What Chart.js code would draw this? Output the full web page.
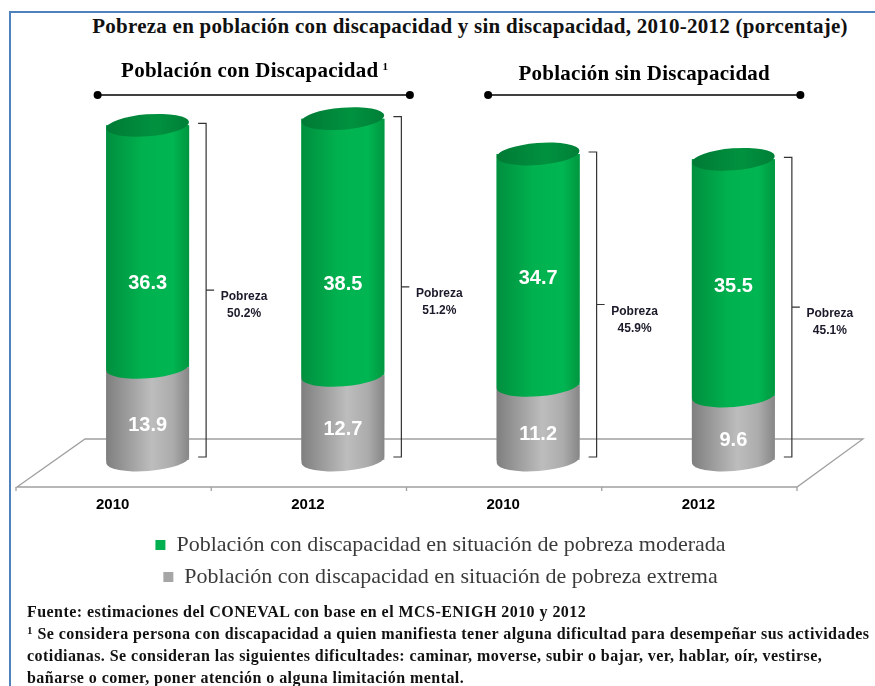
<!DOCTYPE html>
<html lang="es">
<head>
<meta charset="utf-8">
<script src="https://cdn.jsdelivr.net/npm/chart.js@4"></script>
<style>
  html, body { margin: 0; padding: 0; background: #fff; }
  #wrap { position: relative; width: 875px; height: 686px; overflow: hidden; }
  #frame { position: absolute; left: 9px; top: 11px; width: 900px; height: 700px;
    border-left: 2px solid #4f81bd; border-top: 2px solid #4f81bd; }
  #title { position: absolute; left: 0; top: 14px; width: 940px; text-align: center;
    font: bold 21px "Liberation Serif", serif; letter-spacing: 0.25px; color: #111; white-space: nowrap; }
  #notes { position: absolute; left: 27px; top: 601px; font: bold 16px "Liberation Serif", serif;
    letter-spacing: 0.45px; color: #111; line-height: 22px; white-space: nowrap; }
  #notes sup { font-size: 11px; vertical-align: 5px; line-height: 0; }
  canvas { position: absolute; left: 0; top: 0; }
</style>
</head>
<body>
<div id="wrap">
  <div id="frame"></div>
  <div id="title">Pobreza en población con discapacidad y sin discapacidad, 2010-2012 (porcentaje)</div>
  <canvas id="chart" width="875" height="610"></canvas>
  <div id="notes">
    Fuente: estimaciones del CONEVAL con base en el MCS-ENIGH 2010 y 2012<br>
    <sup>1</sup> Se considera persona con discapacidad a quien manifiesta tener alguna dificultad para desempeñar sus actividades<br>
    cotidianas. Se consideran las siguientes dificultades: caminar, moverse, subir o bajar, ver, hablar, oír, vestirse,<br>
    bañarse o comer, poner atención o alguna limitación mental.
  </div>
</div>
<script>
const $ = id => document.getElementById(id);

// Data
const years = ["2010", "2012", "2010", "2012"];
const extrema = [13.9, 12.7, 11.2, 9.6];
const moderada = [36.3, 38.5, 34.7, 35.5];
const pobreza = [50.2, 51.2, 45.9, 45.1];
const groupNames = ["Población con Discapacidad", "Población sin Discapacidad"];
const groupNotes = ["1", ""];
const seriesNames = [
  "Población con discapacidad en situación de pobreza extrema",
  "Población con discapacidad en situación de pobreza moderada"
];

const GREEN = "#00b050";
const GRAY = "#a6a6a6";
const RY = 11;      // ellipse half height
const TILT = -0.08; // ellipse tilt

// floor of the 3d plot, drawn behind the cylinders
const floorPlugin = {
  id: "floor",
  beforeDatasetsDraw(chart) {
    const { ctx, chartArea: ca } = chart;
    const back = ca.bottom - 21, front = ca.bottom + 27;
    ctx.save();
    ctx.strokeStyle = "#a0a0a0";
    ctx.lineWidth = 1.3;
    ctx.beginPath();
    ctx.moveTo(ca.left - 33, front);
    ctx.lineTo(ca.left + 35, back);
    ctx.lineTo(ca.right + 32, back);
    ctx.lineTo(ca.right - 34, front);
    ctx.closePath();
    ctx.stroke();
    const step = (ca.right - ca.left) / years.length;
    for (let i = 0; i <= years.length; i++) {
      const x = ca.left - 34 + step * i;
      ctx.beginPath();
      ctx.moveTo(x, front);
      ctx.lineTo(x, front + 4);
      ctx.stroke();
    }
    ctx.restore();
  }
};

// repaint each bar as a shaded cylinder, then labels and brackets
const cylinderPlugin = {
  id: "cylinders",
  afterDatasetsDraw(chart) {
    const { ctx } = chart;
    const last = chart.data.datasets.length - 1;
    chart.data.datasets.forEach((ds, di) => {
      const meta = chart.getDatasetMeta(di);
      meta.data.forEach(el => {
        const w = el.width, l = el.x - w / 2, r = el.x + w / 2;
        const g = ctx.createLinearGradient(l, 0, r, 0);
        if (di === 0) {
          g.addColorStop(0, "#7f7f7f");
          g.addColorStop(0.55, "#bdbdbd");
          g.addColorStop(0.8, "#acacac");
          g.addColorStop(1, "#868686");
        } else {
          g.addColorStop(0, "#008f3e");
          g.addColorStop(0.45, "#00b24f");
          g.addColorStop(0.8, "#00b652");
          g.addColorStop(1, "#00963f");
        }
        ctx.save();
        ctx.fillStyle = g;
        ctx.beginPath();
        ctx.moveTo(l, el.y);
        ctx.lineTo(l, el.base);
        ctx.ellipse(el.x, el.base, w / 2, RY, TILT, Math.PI, 0, true);
        ctx.lineTo(r, el.y);
        ctx.closePath();
        ctx.fill();
        if (di === last) {
          const t = ctx.createLinearGradient(l, 0, r, 0);
          t.addColorStop(0, "#007a35");
          t.addColorStop(0.6, "#00923f");
          t.addColorStop(1, "#007f37");
          ctx.fillStyle = t;
          ctx.beginPath();
          ctx.ellipse(el.x, el.y, w / 2, RY, TILT, 0, Math.PI * 2);
          ctx.fill();
        }
        ctx.restore();
      });
    });

    // value labels (the two panels of the original place them a bit differently)
    ctx.save();
    ctx.fillStyle = "#fff";
    ctx.font = "bold 20px 'Liberation Sans', Arial, sans-serif";
    ctx.textAlign = "center";
    ctx.textBaseline = "middle";
    chart.data.datasets.forEach((ds, di) => {
      chart.getDatasetMeta(di).data.forEach((el, i) => {
        const off = di === 0 ? 12 : (i < 2 ? 37 : 9);
        ctx.fillText(ds.data[i].toFixed(1), el.x, (el.y + el.base) / 2 + off);
      });
    });
    ctx.restore();

    // brackets with total poverty
    const y = chart.scales.y;
    const metaTop = chart.getDatasetMeta(last);
    ctx.save();
    metaTop.data.forEach((el, i) => {
      const bx = el.x + el.width / 2 + 17;
      const top = y.getPixelForValue(pobreza[i]) - 2;
      const bot = y.getPixelForValue(0) - 3;
      const mid = (top + bot) / 2;
      ctx.strokeStyle = "#333";
      ctx.lineWidth = 1.2;
      ctx.beginPath();
      ctx.moveTo(bx - 8, top);
      ctx.lineTo(bx, top);
      ctx.lineTo(bx, bot);
      ctx.lineTo(bx - 8, bot);
      ctx.moveTo(bx, mid);
      ctx.lineTo(bx + 8, mid);
      ctx.stroke();
      ctx.fillStyle = "#1a1a2a";
      ctx.font = "bold 12px 'Liberation Sans', Arial, sans-serif";
      ctx.textAlign = "center";
      ctx.textBaseline = "middle";
      ctx.fillText("Pobreza", bx + 38, mid + 7);
      ctx.fillText(pobreza[i].toFixed(1) + "%", bx + 38, mid + 24);
    });
    ctx.restore();
  }
};

// group headers with a dotted line under them
const groupPlugin = {
  id: "groups",
  afterDraw(chart) {
    const { ctx } = chart;
    const xs = chart.getDatasetMeta(0).data.map(el => el.x);
    ctx.save();
    groupNames.forEach((name, g) => {
      const x1 = xs[g * 2] - 50, x2 = xs[g * 2 + 1] + 67;
      const ly = 95;
      ctx.strokeStyle = "#000";
      ctx.fillStyle = "#000";
      ctx.lineWidth = 1.5;
      ctx.beginPath();
      ctx.moveTo(x1, ly);
      ctx.lineTo(x2, ly);
      ctx.stroke();
      [x1, x2].forEach(x => {
        ctx.beginPath();
        ctx.arc(x, ly, 4, 0, Math.PI * 2);
        ctx.fill();
      });
      ctx.font = "bold 21px 'Liberation Serif', serif";
      ctx.letterSpacing = "0.25px";
      ctx.textAlign = "center";
      ctx.textBaseline = "middle";
      const cx = (x1 + x2) / 2 - (groupNotes[g] ? 4 : 0);
      const ty = g === 0 ? 72 : 75;
      ctx.fillText(name, cx, ty);
      if (groupNotes[g]) {
        const w = ctx.measureText(name).width;
        ctx.font = "bold 11px 'Liberation Serif', serif";
        ctx.textAlign = "left";
        ctx.fillText(groupNotes[g], cx + w / 2 + 4, ty - 5);
      }
      ctx.letterSpacing = "0px";
    });
    ctx.restore();
  }
};

new Chart($("chart"), {
  type: "bar",
  data: {
    labels: years,
    datasets: [
      { label: seriesNames[0], data: extrema, backgroundColor: GRAY, borderWidth: 0 },
      { label: seriesNames[1], data: moderada, backgroundColor: GREEN, borderWidth: 0 }
    ]
  },
  options: {
    responsive: false,
    animation: false,
    layout: { padding: { top: 60, left: 50, right: 44, bottom: 12 } },
    datasets: { bar: { categoryPercentage: 1, barPercentage: 0.425 } },
    scales: {
      x: {
        stacked: true,
        grid: { display: false, drawTicks: false },
        border: { display: false },
        afterFit: s => { s.height = 64; },
        ticks: {
          labelOffset: -35,
          padding: 36,
          color: "#000",
          font: { family: "'Liberation Sans', Arial, sans-serif", size: 15, weight: "bold" }
        }
      },
      y: { stacked: true, display: false, min: 0, max: 60 }
    },
    plugins: {
      legend: {
        position: "bottom",
        reverse: true,
        labels: {
          boxWidth: 10,
          boxHeight: 10,
          padding: 10,
          color: "#3a3a3a",
          font: { family: "'Liberation Serif', serif", size: 22 }
        }
      },
      tooltip: { enabled: false }
    }
  },
  plugins: [floorPlugin, cylinderPlugin, groupPlugin]
});
</script>
</body>
</html>
